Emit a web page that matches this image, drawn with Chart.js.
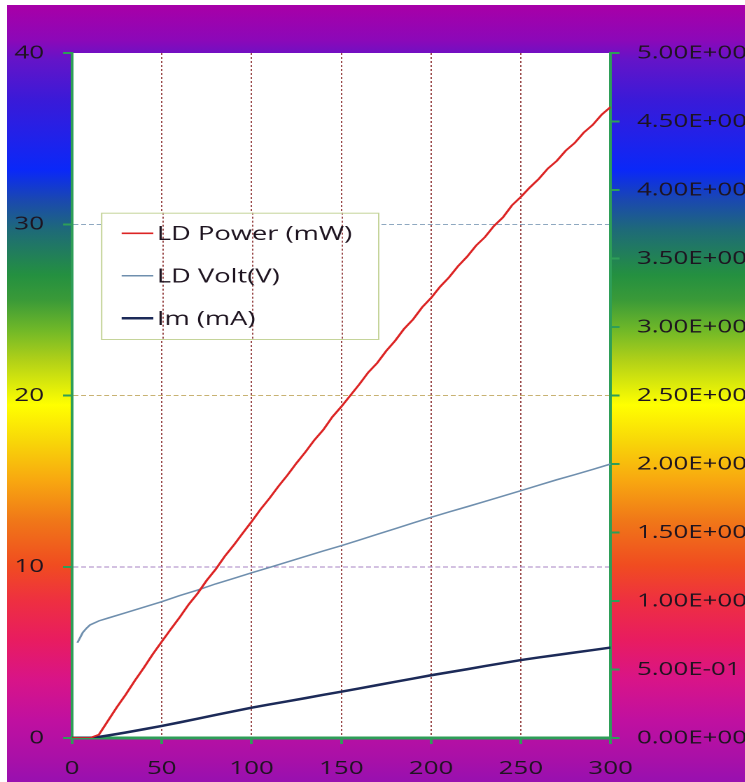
<!DOCTYPE html>
<html>
<head>
<meta charset="utf-8">
<title>LD characteristics</title>
<script src="https://cdn.jsdelivr.net/npm/chart.js@4.4.0/dist/chart.umd.min.js"></script>
<style>
	html, body { margin: 0; padding: 0; background: #fff; overflow: hidden; }
	#bg {
		position: absolute; left: 7px; top: 5px; width: 738px; height: 777px;
		background: linear-gradient(to bottom,
			#a600a8 3px, #8c08b8 35px, #6414c8 55px, #3a1ad8 95px, #0a28f8 165px,
			#1a48b0 195px, #1e6a78 225px, #249040 270px, #3a9a38 295px, #70b828 325px,
			#b0d018 355px, #ffff00 400px, #f8d808 435px, #f8a810 475px, #f07818 515px,
			#f04c20 560px, #ee3040 595px, #e81c60 635px, #d81488 675px, #c010a0 715px,
			#a810a8 755px, #9810b0 777px);
	}
	/* the original picture is stretched sideways, so the chart is too */
	#wrap {
		position: absolute; left: 0; top: 0; width: 532.14px; height: 782px;
		transform: scaleX(1.4); transform-origin: 0 0;
	}
</style>
</head>
<body>
<div id="bg"></div>
<div id="wrap"><canvas id="ld-chart"></canvas></div>
<script>
// LD drive current (mA) vs optical power
var powerCurrent = [0, 5, 10, 15, 20, 25, 30, 35, 40, 45, 50, 55, 60, 65, 70, 75, 80, 85, 90, 95,
	100, 105, 110, 115, 120, 125, 130, 135, 140, 145, 150, 155, 160, 165, 170, 175, 180, 185, 190, 195,
	200, 205, 210, 215, 220, 225, 230, 235, 240, 245, 250, 255, 260, 265, 270, 275, 280, 285, 290, 295, 300];
var ldPower = [0, 0, 0, 0.2, 1.0, 1.8, 2.55, 3.35, 4.1, 4.9, 5.63, 6.35, 7.05, 7.8, 8.45, 9.2, 9.85, 10.6, 11.25, 11.95,
	12.63, 13.35, 14.0, 14.7, 15.35, 16.05, 16.7, 17.4, 18.0, 18.75, 19.35, 20.0, 20.65, 21.35, 21.9, 22.6, 23.2, 23.9, 24.45, 25.15,
	25.7, 26.35, 26.9, 27.55, 28.1, 28.75, 29.25, 29.9, 30.4, 31.1, 31.6, 32.15, 32.65, 33.25, 33.7, 34.3, 34.75, 35.35, 35.8, 36.4, 36.85];

var voltCurrent = [3, 4, 5, 6, 8, 10, 15, 20, 30, 40, 50, 60, 70, 80, 90, 100, 110, 120, 130, 140, 150,
	160, 170, 180, 190, 200, 210, 220, 230, 240, 250, 260, 270, 280, 290, 300];
var ldVolt = [0.695, 0.72, 0.745, 0.77, 0.80, 0.825, 0.855, 0.875, 0.915, 0.955, 0.995, 1.04, 1.08, 1.125, 1.165, 1.206, 1.245, 1.285, 1.325, 1.365, 1.404,
	1.445, 1.487, 1.528, 1.57, 1.611, 1.65, 1.688, 1.727, 1.766, 1.805, 1.845, 1.885, 1.922, 1.96, 2.0];

var imCurrent = [0, 10, 13, 20, 30, 40, 50, 60, 70, 80, 90, 100, 110, 120, 130, 140, 150,
	160, 170, 180, 190, 200, 210, 220, 230, 240, 250, 260, 270, 280, 290, 300];
var imValues = [0, 0.002, 0.004, 0.018, 0.04, 0.064, 0.088, 0.114, 0.141, 0.168, 0.195, 0.221, 0.245, 0.268, 0.291, 0.315, 0.338,
	0.362, 0.386, 0.41, 0.434, 0.458, 0.48, 0.502, 0.525, 0.547, 0.569, 0.588, 0.606, 0.624, 0.642, 0.66];

var currentTicks = [0, 50, 100, 150, 200, 250, 300];
var powerTicks = [0, 10, 20, 30, 40];
var voltTicks = [0, 0.5, 1, 1.5, 2, 2.5, 3, 3.5, 4, 4.5, 5];

var seriesNames = ["LD Power (mW)", "LD Volt(V)", "Im (mA)"];

var axisGreen = "#2e9e58";
var textColor = "#1e1420";
var vGridColor = "#9a4a4a";
var hGridColors = { 10: "#a884c4", 20: "#c8b272", 30: "#8ea8c0" };

function points(xs, ys) {
	return xs.map(function (x, i) { return { x: x, y: ys[i] }; });
}

// Excel style 0.00E+00
function sci(v) {
	if (Math.abs(v) < 1e-12) return "0.00E+00";
	var e = Math.floor(Math.log10(Math.abs(v)) + 1e-9);
	var m = v / Math.pow(10, e);
	return m.toFixed(2) + "E" + (e < 0 ? "-" : "+") + String(Math.abs(e)).padStart(2, "0");
}

function fixedTicks(list) {
	return function (scale) {
		scale.ticks = list.map(function (v) { return { value: v }; });
	};
}

var plotBg = {
	id: "plotBg",
	beforeDraw: function (chart) {
		var a = chart.chartArea, c = chart.ctx;
		c.save();
		c.fillStyle = "#fff";
		c.fillRect(a.left, a.top, a.right - a.left, a.bottom - a.top);
		c.restore();
	}
};

var boxLegend = {
	id: "boxLegend",
	afterDraw: function (chart) {
		var c = chart.ctx, xs = chart.scales.x;
		var box = { left: 72.1, top: 212.7, width: 197.9, height: 126.3 };
		c.save();
		c.fillStyle = "#fff";
		c.fillRect(box.left, box.top, box.width, box.height);
		// dotted current grid shows through the legend
		c.strokeStyle = vGridColor;
		c.lineWidth = 1;
		c.setLineDash([2, 2]);
		xs.ticks.forEach(function (t) {
			var px = Math.round(xs.getPixelForValue(t.value)) + 0.5;
			if (px > box.left && px < box.left + box.width) {
				c.beginPath();
				c.moveTo(px, box.top);
				c.lineTo(px, box.top + box.height);
				c.stroke();
			}
		});
		c.setLineDash([]);
		c.strokeStyle = "#c5d49a";
		c.strokeRect(box.left + 0.5, box.top + 0.5, box.width, box.height);
		c.font = '19.5px "Open Sans"';
		c.fillStyle = textColor;
		c.textBaseline = "alphabetic";
		chart.data.datasets.forEach(function (ds, i) {
			var y = 240 + i * 42.5;
			c.strokeStyle = ds.borderColor;
			c.lineWidth = ds.borderWidth;
			c.beginPath();
			c.moveTo(86.9, y - 6.7);
			c.lineTo(109.5, y - 6.7);
			c.stroke();
			c.fillText(ds.label, 112, y);
		});
		c.restore();
	}
};

var tickFont = { family: "Open Sans", size: 18.5 };

var chart = new Chart(document.getElementById("ld-chart"), {
	type: "line",
	data: {
		datasets: [
			{
				label: seriesNames[0],
				data: points(powerCurrent, ldPower),
				yAxisID: "y",
				borderColor: "#dc2424",
				borderWidth: 1.7
			},
			{
				label: seriesNames[1],
				data: points(voltCurrent, ldVolt),
				yAxisID: "y1",
				borderColor: "#6f8fae",
				borderWidth: 1.5
			},
			{
				label: seriesNames[2],
				data: points(imCurrent, imValues),
				yAxisID: "y1",
				borderColor: "#1c2a58",
				borderWidth: 2.5
			}
		]
	},
	options: {
		responsive: true,
		maintainAspectRatio: false,
		devicePixelRatio: 2,
		animation: false,
		events: [],
		layout: { padding: { top: 53, left: 0, right: 0, bottom: 0 } },
		elements: { point: { radius: 0 }, line: { tension: 0 } },
		plugins: { legend: { display: false }, tooltip: { enabled: false } },
		scales: {
			x: {
				type: "linear",
				min: 0,
				max: 300,
				afterBuildTicks: fixedTicks(currentTicks),
				afterFit: function (s) { s.height = 44; },
				// in v4 border.dash also sets the dash of the grid lines
				border: { color: axisGreen, width: 3, dash: [2, 2] },
				grid: {
					color: function (ctx) {
						var v = ctx.tick && ctx.tick.value;
						return (v === 0 || v === 300) ? "rgba(0,0,0,0)" : vGridColor;
					},
					lineWidth: 1,
					tickColor: axisGreen,
					tickBorderDash: [],
					tickWidth: 2,
					tickLength: 6
				},
				ticks: { color: textColor, font: tickFont, padding: 13.5, maxRotation: 0 }
			},
			y: {
				position: "left",
				min: 0,
				max: 40,
				afterBuildTicks: fixedTicks(powerTicks),
				afterFit: function (s) { s.width = 51.43; },
				border: { color: axisGreen, width: 2, dash: [3.5, 2] },
				grid: {
					color: function (ctx) {
						return hGridColors[ctx.tick && ctx.tick.value] || "rgba(0,0,0,0)";
					},
					lineWidth: 1,
					tickColor: axisGreen,
					tickBorderDash: [],
					tickWidth: 2,
					tickLength: 6.4
				},
				ticks: { color: textColor, font: tickFont, padding: 13.6 }
			},
			y1: {
				position: "right",
				min: 0,
				max: 5,
				afterBuildTicks: fixedTicks(voltTicks),
				afterFit: function (s) { s.width = 95.93; },
				border: { color: axisGreen, width: 2 },
				grid: {
					drawOnChartArea: false,
					tickColor: axisGreen,
					tickWidth: 2,
					tickLength: 6.4
				},
				ticks: {
					color: textColor,
					font: tickFont,
					padding: 12.4,
					callback: function (v) { return sci(v); }
				}
			}
		}
	},
	plugins: [plotBg, boxLegend]
});
</script>
</body>
</html>
